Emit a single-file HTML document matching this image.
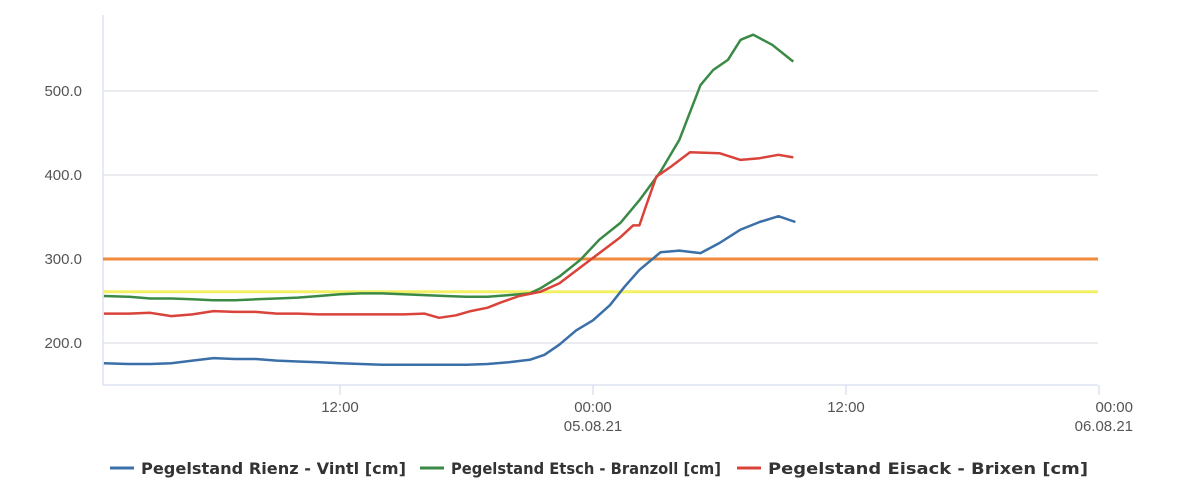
<!DOCTYPE html>
<html><head><meta charset="utf-8"><style>
body{margin:0;background:#fff;font-family:"Liberation Sans",sans-serif;}
svg text{font-family:"Liberation Sans",sans-serif;}
</style></head><body>
<svg id="chart" width="1200" height="495" xmlns="http://www.w3.org/2000/svg"></svg>
<script>
const yTicks=[200,300,400,500];
const yTickLabels=["200.0","300.0","400.0","500.0"];
const xTicks=[12,24,36,48];
const xTickLabels=[["12:00"],["00:00","05.08.21"],["12:00"],["00:00","06.08.21"]];
const thresholds=[300,261];
const rienzHours=[0.8,2,3,4,5,6,7,8,9,10,11,12,13,14,15,16,17,18,19,20,21,21.7,22.4,23.2,24,24.8,25.5,26.2,27.2,28.1,29.1,30,31,31.9,32.8,33.6];
const rienzVals=[176,175,175,176,179,182,181,181,179,178,177,176,175,174,174,174,174,174,175,177,180,186,198,215,227,245,267,287,308,310,307,319,335,344,351,344];
const etschHours=[0.8,2,3,4,5,6,7,8,9,10,11,12,13,14,15,16,17,18,19,20,21,21.5,22.4,23.4,24.3,25.3,26.2,27.2,28.1,29.1,29.7,30.4,31,31.6,32.5,33.5];
const etschVals=[256,255,253,253,252,251,251,252,253,254,256,258,259,259,258,257,256,255,255,257,259,265,279,299,323,343,370,404,442,507,525,537,561,567,555,535];
const eisackHours=[0.8,2,3,4,5,6,7,8,9,10,11,12,13,14,15,16,16.7,17.5,18.2,19,19.6,20.5,21.5,22.4,23.4,24.3,25.3,25.9,26.2,26.5,27,27.7,28.6,30,31,31.9,32.8,33.5];
const eisackVals=[235,235,236,232,234,238,237,237,235,235,234,234,234,234,234,235,230,233,238,242,248,256,261,271,290,307,326,340,340,362,398,410,427,426,418,420,424,421];
const legendNames=["Pegelstand Rienz - Vintl [cm]","Pegelstand Etsch - Branzoll [cm]","Pegelstand Eisack - Brixen [cm]"];
const colors=["#3b6fa8","#3a8a46","#d9433a"];

const NS="http://www.w3.org/2000/svg";
const svg=document.getElementById('chart');
const X0=103,X1=1098,Y0=385;
function xs(h){return 340+(h-12)*253/12;}
function ys(v){return 343-(v-200)*0.84;}
function mk(tag,attrs,parent){const e=document.createElementNS(NS,tag);for(const k in attrs)e.setAttribute(k,attrs[k]);(parent||svg).appendChild(e);return e;}

yTicks.forEach((v,i)=>{
  const g=mk('line',{x1:X0,x2:X1,y1:ys(v),y2:ys(v),stroke:'#d6d9e0','stroke-width':1});
  
  
  const t=mk('text',{x:82,y:ys(v)+5,'text-anchor':'end','font-size':15,fill:'#555'});
  t.textContent=yTickLabels[i];
  
  
});
const ya=mk('line',{x1:X0,x2:X0,y1:15,y2:Y0,stroke:'#ccd6eb','stroke-width':1});


const xa=mk('line',{x1:X0,x2:X1,y1:Y0,y2:Y0,stroke:'#ccd6eb','stroke-width':1});


xTicks.forEach((h,i)=>{
  const tk=mk('line',{x1:xs(h),x2:xs(h),y1:Y0,y2:Y0+10,stroke:'#ccd6eb','stroke-width':1});
  
  
  xTickLabels[i].forEach((s,j)=>{
    const t=mk('text',{x:xs(h),y:412+j*19,'text-anchor':i==3?'end':'middle','font-size':15,fill:'#555'});
    if(i==3)t.setAttribute('x',xs(h)+34);
    t.textContent=s;
    
    
  });
});
const thColors=["#f08a3c","#f4f066"];
thresholds.forEach((v,i)=>{
  const l=mk('line',{x1:X0,x2:X1,y1:ys(v),y2:ys(v),stroke:thColors[i],'stroke-width':3});
  
  
});
[[rienzHours,rienzVals],[etschHours,etschVals],[eisackHours,eisackVals]].forEach((s,i)=>{
  const d=s[0].map((h,k)=>(k?'L':'M')+xs(h).toFixed(1)+','+ys(s[1][k]).toFixed(1)).join(' ');
  const p=mk('path',{d:d,fill:'none',stroke:colors[i],'stroke-width':2.5,'stroke-linejoin':'round'});
  
  
});
const lx=[110,420,737];
const lw=[265,270,320];
legendNames.forEach((n,i)=>{
  const g=mk('g',{});
  
  
  mk('line',{x1:lx[i],x2:lx[i]+24,y1:468,y2:468,stroke:colors[i],'stroke-width':3},g);
  const t=mk('text',{x:lx[i]+31,y:474,'font-size':16,'font-weight':'bold',fill:'#333',textLength:lw[i],lengthAdjust:'spacingAndGlyphs'},g);
  t.style.fontFamily='"DejaVu Sans","Liberation Sans",sans-serif';
  t.textContent=n;
});
</script>
</body></html>
